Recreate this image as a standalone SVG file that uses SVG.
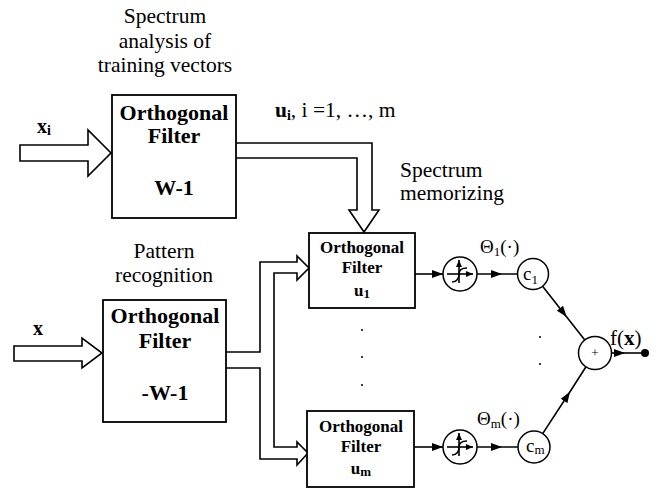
<svg xmlns="http://www.w3.org/2000/svg" xmlns:xlink="http://www.w3.org/1999/xlink" width="664" height="488" viewBox="0 0 664 488">
  <style>
    text { font-family: "Liberation Serif", "Times New Roman", serif; fill: #000; }
    .lbl { font-size: 21.5px; }
    .big { font-size: 22px; font-weight: bold; text-anchor: middle; }
    .sm { font-size: 17px; font-weight: bold; text-anchor: middle; }
    .theta { font-size: 19px; }
    .box { fill: #fff; stroke: #000; stroke-width: 1.8; }
    .hollow { fill: #fff; stroke: #000; stroke-width: 1.6; stroke-linejoin: miter; }
    .wire { fill: none; stroke: #000; stroke-width: 1.6; }
    .node { fill: #fff; stroke: #000; stroke-width: 1.5; }
    .dot { fill: #000; }
  </style>
  <defs>
    <marker id="arr" markerUnits="userSpaceOnUse" markerWidth="11" markerHeight="8" refX="11" refY="4" orient="auto">
      <path d="M0,0 L11,4 L0,8 z" fill="#000"/>
    </marker>
    <marker id="arrS" markerUnits="userSpaceOnUse" markerWidth="7" markerHeight="6" refX="7" refY="3" orient="auto">
      <path d="M0,0 L7,3 L0,6 z" fill="#000"/>
    </marker>
    <!-- threshold activation: circle with axes and a step-like curve -->
    <g id="sigmoid">
      <circle r="17" class="node"/>
      <path d="M-13,0 L13,0" class="wire" stroke-width="1.5" marker-end="url(#arrS)"/>
      <path d="M-1,9 L-1,-14" class="wire" stroke-width="1.5" marker-end="url(#arrS)"/>
      <path d="M-8,8 C-3,8 -1,4 -1,0 C-1,-4 2,-6 7,-6" class="wire" stroke-width="1.4"/>
    </g>
  </defs>

  <rect width="664" height="488" fill="#fff"/>

  <!-- captions -->
  <g id="captions">
    <text class="lbl" x="165" y="23" text-anchor="middle">Spectrum</text>
    <text class="lbl" x="165" y="48" text-anchor="middle">analysis of</text>
    <text class="lbl" x="165" y="72" text-anchor="middle">training vectors</text>
    <text class="lbl" x="164" y="258" text-anchor="middle">Pattern</text>
    <text class="lbl" x="164" y="282" text-anchor="middle">recognition</text>
    <text class="lbl" x="400" y="177">Spectrum</text>
    <text class="lbl" x="400" y="200">memorizing</text>
    <text class="lbl" x="275" y="117"><tspan font-weight="bold">u</tspan><tspan font-weight="bold" font-size="14" dy="3">i</tspan><tspan dy="-3">, i =1, …, m</tspan></text>
    <text x="37" y="133" font-size="20" font-weight="bold">x<tspan font-size="14" dy="2">i</tspan></text>
    <text x="33" y="335" font-size="20" font-weight="bold">x</text>
    <text class="theta" x="480" y="253">Θ<tspan font-size="13" dy="3">1</tspan><tspan dy="-3">(·)</tspan></text>
    <text class="theta" x="477" y="425">Θ<tspan font-size="13" dy="3">m</tspan><tspan dy="-3">(·)</tspan></text>
    <text x="610" y="345" font-size="21">f(<tspan font-weight="bold">x</tspan>)</text>
  </g>

  <!-- connectors -->
  <g id="connectors">
    <!-- hollow input arrows -->
    <polygon class="hollow" points="20,145 88,145 88,130 111,153 88,176 88,161 20,161"/>
    <polygon class="hollow" points="14,346 82,346 82,338 102,353 82,368 82,361 14,361"/>
    <!-- spectrum memorizing: W-1 output down into u1 -->
    <path class="hollow" d="M236,143 H372 V210 H379 L364,232 L349,210 H357 V158 H236"/>
    <!-- -W-1 output branching to both filters -->
    <path class="hollow" d="M226,352 H260 V262 H297 V256 L309,268 L297,280 V273 H274 V447 H297 V442 L308,453 L297,465 V459 H260 V368 H226"/>
    <!-- filter to activation -->
    <path class="wire" d="M415,274 L443,274" marker-end="url(#arr)"/>
    <path class="wire" d="M414,447 L443,447" marker-end="url(#arr)"/>
    <!-- activation to weights -->
    <path class="wire" d="M477,274 L502,274 L517,274" marker-mid="url(#arr)"/>
    <path class="wire" d="M477,447 L502,447 L518,447" marker-mid="url(#arr)"/>
    <!-- weights to summation -->
    <path class="wire" d="M542.6,286.2 L566.7,316.9 L584.8,340" marker-mid="url(#arr)"/>
    <path class="wire" d="M542.7,433.6 L570,391.7 L586,366.8" marker-mid="url(#arr)"/>
    <!-- output -->
    <path class="wire" d="M612,353 L625,353 L644,353" marker-mid="url(#arr)"/>
    <circle class="dot" cx="645" cy="353" r="4"/>
  </g>

  <!-- nodes -->
  <g id="filter-train">
    <rect class="box" x="112" y="95" width="124" height="123"/>
    <text class="big" x="174" y="120">Orthogonal</text>
    <text class="big" x="174" y="143">Filter</text>
    <text class="big" x="174" y="195">W-1</text>
  </g>
  <g id="filter-recog">
    <rect class="box" x="103" y="300" width="123" height="122"/>
    <text class="big" x="165" y="323">Orthogonal</text>
    <text class="big" x="165" y="348">Filter</text>
    <text class="big" x="165" y="400">-W-1</text>
  </g>
  <g id="filter-u1">
    <rect class="box" x="309" y="233" width="106" height="75"/>
    <text class="sm" x="362" y="253">Orthogonal</text>
    <text class="sm" x="362" y="273">Filter</text>
    <text class="sm" x="362" y="296">u<tspan font-size="13" dy="2">1</tspan></text>
  </g>
  <g id="filter-um">
    <rect class="box" x="307" y="411" width="107" height="76"/>
    <text class="sm" x="361" y="432">Orthogonal</text>
    <text class="sm" x="361" y="452">Filter</text>
    <text class="sm" x="361" y="474">u<tspan font-size="13" dy="2">m</tspan></text>
  </g>
  <g id="ellipsis-filters">
    <circle class="dot" cx="362" cy="330" r="1"/>
    <circle class="dot" cx="362" cy="357" r="1"/>
    <circle class="dot" cx="362" cy="385" r="1"/>
  </g>
  <g id="act-1"><use xlink:href="#sigmoid" x="460" y="274"/></g>
  <g id="act-m"><use xlink:href="#sigmoid" x="460" y="447"/></g>
  <g id="weight-1">
    <circle class="node" cx="533" cy="274" r="15.5"/>
    <text x="523" y="280" font-size="19">c<tspan font-size="13" dy="4">1</tspan></text>
  </g>
  <g id="weight-m">
    <circle class="node" cx="534" cy="447" r="16"/>
    <text x="526" y="452" font-size="19">c<tspan font-size="13" dy="2">m</tspan></text>
  </g>
  <g id="ellipsis-weights">
    <circle class="dot" cx="540" cy="337" r="1"/>
    <circle class="dot" cx="540" cy="364" r="1"/>
  </g>
  <g id="sum">
    <circle class="node" cx="595" cy="353" r="16.5"/>
    <text x="595" y="357" font-size="13" text-anchor="middle">+</text>
  </g>
</svg>
